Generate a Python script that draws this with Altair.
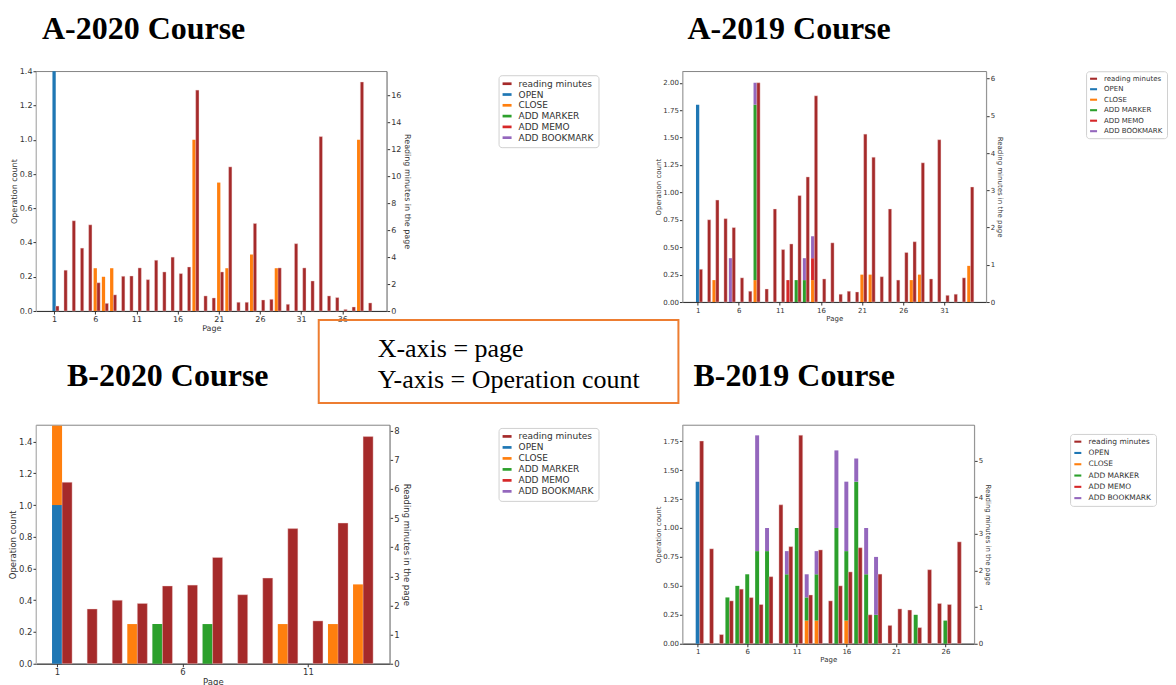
import altair as alt
import pandas as pd

# ---------------- data ----------------
OPS = ["OPEN", "CLOSE", "ADD MARKER", "ADD MEMO", "ADD BOOKMARK"]
LEGEND_ITEMS = ["reading minutes"] + OPS
COLORS = ["#a52a2a", "#1f77b4", "#ff7f0e", "#2ca02c", "#d62728", "#9467bd"]

# A-2020 course
a20_minutes = [0.37, 3.03, 6.7, 4.67, 6.4, 2.1, 0.57, 1.2, 2.58, 2.6, 3.2, 2.33, 3.77,
               2.9, 4.0, 2.78, 3.27, 16.4, 1.12, 0.97, 2.9, 10.7, 0.65, 0.65, 6.5, 0.82,
               0.87, 3.2, 0.5, 5.0, 3.2, 2.23, 12.95, 1.12, 1.0, 0.12, 0.3, 17.0, 0.6]
a20_ops = {
    "OPEN": ([1], [1.4]),
    "CLOSE": ([6, 7, 8, 18, 21, 22, 25, 28, 38],
              [0.25, 0.2, 0.25, 1.0, 0.75, 0.25, 0.33, 0.25, 1.0]),
}

# A-2019 course
a19_minutes = [0.88, 2.21, 2.74, 2.24, 2.0, 0.65, 0.29, 5.89, 0.35, 2.5, 1.41, 1.56, 2.86,
               3.36, 5.54, 0.62, 1.59, 0.21, 0.29, 0.27, 4.51, 3.89, 0.68, 2.5, 0.59, 1.33,
               1.62, 3.74, 0.62, 4.36, 0.18, 0.21, 0.65, 3.09]
a19_ops = {
    "OPEN": ([1], [1.8]),
    "CLOSE": ([3, 8, 15, 21, 22, 27, 28, 34], [0.2, 0.2, 0.2, 0.25, 0.25, 0.2, 0.25, 0.33]),
    "ADD MARKER": ([8, 13, 14], [1.6, 0.2, 0.2]),
    "ADD MEMO": ([12, 15], [0.2, 0.2]),
    "ADD BOOKMARK": ([5, 8, 14, 15], [0.4, 0.2, 0.2, 0.2]),
}

# B-2020 course
b20_minutes = [6.23, 1.88, 2.18, 2.07, 2.67, 2.7, 3.65, 2.37, 2.94, 4.64, 1.47, 4.83, 7.8]
b20_ops = {
    "OPEN": ([1], [1.0]),
    "CLOSE": ([1, 4, 10, 12, 13], [0.5, 0.25, 0.25, 0.25, 0.5]),
    "ADD MARKER": ([5, 7], [0.25, 0.25]),
}

# B-2019 course
b19_minutes = [5.53, 2.59, 0.25, 1.17, 1.49, 1.26, 1.07, 1.83, 3.79, 2.65, 5.69, 1.33, 2.56,
               1.17, 1.58, 1.96, 2.62, 0.79, 1.9, 0.5, 0.95, 0.92, 0.44, 2.02, 1.1, 1.07, 2.78]
b19_ops = {
    "OPEN": ([1], [1.4]),
    "CLOSE": ([12, 13, 16], [0.2, 0.2, 0.2]),
    "ADD MARKER": ([4, 5, 6, 7, 8, 10, 11, 12, 13, 15, 16, 17, 18, 19, 23, 26],
                   [0.4, 0.5, 0.6, 0.8, 0.8, 0.6, 1.0, 0.2, 0.4, 1.0, 0.6, 1.4, 0.6, 0.25, 0.25, 0.2]),
    "ADD BOOKMARK": ([7, 8, 10, 12, 13, 15, 16, 17, 18, 19],
                     [1.0, 0.2, 0.2, 0.2, 0.2, 0.67, 0.6, 0.2, 0.4, 0.5]),
}

BOX_LINES = ["X-axis = page", "Y-axis = Operation count"]


# ---------------- helpers ----------------
def op_frame(ops, n):
    rows = []
    for p in range(1, n + 1):
        base = 0.0
        for op in OPS:
            pages, vals = ops.get(op, ([], []))
            if p in pages:
                v = vals[pages.index(p)]
                rows.append({"kind": op, "x0": p - 0.2, "x1": p + 0.2, "y0": base, "y1": base + v})
                base += v
    return pd.DataFrame(rows)


def read_frame(minutes):
    pages = list(range(1, len(minutes) + 1))
    return pd.DataFrame({
        "kind": ["reading minutes"] * len(pages),
        "x0": [p + 0.2 for p in pages],
        "x1": [p + 0.6 for p in pages],
        "m": minutes,
    })


def panel(title, minutes, ops, xdom, ydom, ystep, yfmt, rdom, rstep, w, h, fs,
          leg, lfs, lsym, lrow, tdx, toff, tdy=33, extra=()):
    n = len(minutes)
    od = op_frame(ops, n)
    rd = read_frame(minutes)
    xticks = list(range(1, n + 1, 5))
    yticks = [round(i * ystep, 3) for i in range(int(ydom[1] / ystep + 1e-6) + 1)]
    rticks = list(range(0, int(rdom[1]) + 1, rstep))

    common_axis = dict(labelFontSize=fs, titleFontSize=fs, tickSize=3, labelPadding=1,
                       grid=False, labelFont="DejaVu Sans", titleFont="DejaVu Sans",
                       titleFontWeight="normal", labelColor="#333", titleColor="#333",
                       tickColor="#333")
    xenc = alt.X("x0:Q", scale=alt.Scale(domain=xdom, nice=False, zero=False),
                 axis=alt.Axis(values=xticks, format="d", title="Page", titlePadding=1,
                               domainColor="#333", **common_axis))
    color = alt.Color("kind:N", title=None,
                      scale=alt.Scale(domain=LEGEND_ITEMS, range=COLORS),
                      legend=alt.Legend(orient="none", legendX=leg[0], legendY=leg[1],
                                        symbolType="M-1,-0.3H1V0.3H-1Z", symbolSize=lsym,
                                        symbolStrokeWidth=0, labelFontSize=lfs,
                                        labelFont="DejaVu Sans", labelColor="#333",
                                        rowPadding=lrow, labelOffset=7, padding=4,
                                        strokeColor="#d0d0d0", cornerRadius=3))
    ops_layer = alt.Chart(od).mark_bar().encode(
        x=xenc, x2="x1:Q",
        y=alt.Y("y0:Q", stack=None, scale=alt.Scale(domain=ydom, nice=False, zero=True),
                axis=alt.Axis(orient="left", values=yticks, format=yfmt,
                              title="Operation count", titlePadding=1,
                              domainColor="#bbb", **common_axis)),
        y2="y1:Q",
        color=color,
    )
    read_layer = alt.Chart(rd).mark_bar(stroke="#f2d6d6", strokeWidth=0.4).encode(
        x=xenc, x2="x1:Q",
        y=alt.Y("m:Q", stack=None, scale=alt.Scale(domain=rdom, nice=False, zero=True),
                axis=alt.Axis(orient="right", values=rticks, format="d",
                              title="Reading minutes in the page", titlePadding=2,
                              domainColor="#999", **common_axis)),
        y2=alt.datum(0),
        color=color,
    )
    layers = [ops_layer, read_layer] + list(extra)
    return alt.layer(*layers).resolve_scale(y="independent").properties(
        width=w, height=h,
        title=alt.TitleParams(title, anchor="start", frame="group", font="Liberation Serif",
                              fontSize=32, fontWeight="bold", color="black",
                              baseline="alphabetic", offset=toff, dx=tdx, dy=tdy),
    )


# annotation box (positioned relative to the A-2020 panel)
box_df = pd.DataFrame({"t": ["\n".join(BOX_LINES)]})
box_rect = alt.Chart(box_df).mark_rect(fillOpacity=0, stroke="#ed7d31", strokeWidth=2).encode(
    x=alt.value(283), x2=alt.value(643), y=alt.value(249), y2=alt.value(332))
box_text = alt.Chart(box_df).mark_text(
    font="Liberation Serif", fontSize=26, align="left", baseline="alphabetic",
    lineBreak="\n", lineHeight=31, color="black").encode(
    x=alt.value(342), y=alt.value(286), text="t:N")

a20 = panel("A-2020 Course", a20_minutes, a20_ops, [-1.2, 41.4], [0, 1.4], 0.2, ".1f",
            [0, 17.8], 2, 351, 240, 8, (463, 4), 9, 81, 0.8, 6, 29,
            extra=(box_rect, box_text))
a19 = panel("A-2019 Course", a19_minutes, a19_ops, [-0.85, 36.1], [0, 2.105], 0.25, ".2f",
            [0, 6.2], 1, 304, 231, 7, (404, 0), 7, 49, 2.5, 5, 29, tdy=29)
b20 = panel("B-2020 Course", b20_minutes, b20_ops, [0.16, 14.26], [0, 1.505], 0.2, ".1f",
            [0, 8.2], 1, 354, 239, 8.5, (463, 3), 9, 81, 1.0, 31, 40)
b19 = panel("B-2019 Course", b19_minutes, b19_ops, [-0.54, 28.9], [0, 1.89], 0.25, ".2f",
            [0, 5.97], 1, 292, 219, 7, (388, 9), 7.5, 49, 2.3, 11, 40)

chart = alt.concat(
    a20, a19, b20, b19, columns=2, bounds="flush", align="none",
    spacing={"row": 114, "column": 293},
).resolve_scale(color="independent").resolve_legend(color="independent").properties(
    padding={"left": 0, "top": 4, "right": 0, "bottom": 0},
    background="white",
).configure_view(stroke="#666", strokeWidth=0.8)

chart.save("out.html", embed_options={"renderer": "svg", "actions": False})
